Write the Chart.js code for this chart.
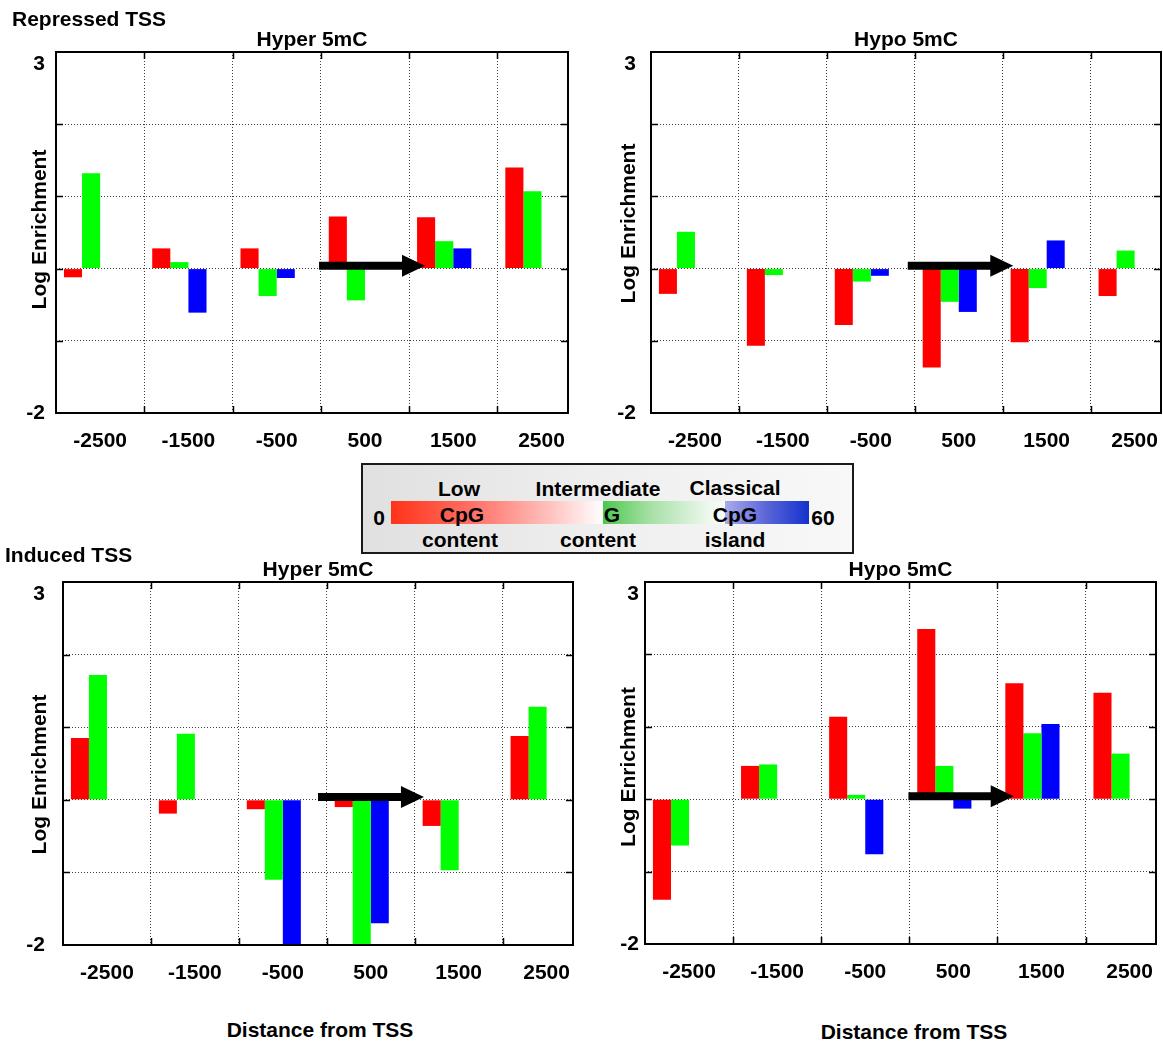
<!DOCTYPE html>
<html lang="en">
<head>
<meta charset="utf-8">
<title>Log enrichment around TSS</title>
<script src="https://cdn.jsdelivr.net/npm/chart.js@4.4.1/dist/chart.umd.min.js"></script>
<style>
    html, body { margin: 0; padding: 0; background: #fff; }
    #figure {
        position: relative;
        width: 1163px;
        height: 1048px;
        overflow: hidden;
        font-family: "Liberation Sans", Arial, sans-serif;
        font-weight: bold;
        color: #000;
    }
    #figure canvas { position: absolute; }
    .label { position: absolute; font-size: 21px; line-height: 1; white-space: nowrap; }
    .label.center { transform: translate(-50%, -50%); }
    .label.left { transform: translateY(-50%); }
    #cpg-key {
        position: absolute;
        left: 361px;
        top: 463px;
        width: 493px;
        height: 91px;
        box-sizing: border-box;
        border: 2px solid #1a1a1a;
        background: linear-gradient(to right, #e0e0e0, #eeeeee 45%, #f8f8f8);
    }
    #cpg-scale {
        position: absolute;
        left: 391px;
        top: 501px;
        width: 418px;
        height: 23px;
        background: linear-gradient(to right,
            #ff3318 0%, #ff7268 20%, #ffc2be 38%, #fff2f2 48%, #ffffff 50.8%,
            #4cc84c 50.8%, #a6e0a6 62%, #eef8ee 76%, #f8fcf8 80%,
            #a8aaea 80%, #5a64d8 90%, #1432cc 100%);
    }
</style>
</head>
<body>
<div id="figure">
    <canvas id="rep-hyper" width="580" height="432" style="left:0;top:26px"></canvas>
    <canvas id="rep-hypo" width="581" height="432" style="left:582px;top:26px"></canvas>
    <canvas id="ind-hyper" width="582" height="434" style="left:0;top:556px"></canvas>
    <canvas id="ind-hypo" width="581" height="433" style="left:582px;top:556px"></canvas>

    <div class="label left" style="left:12px;top:18px">Repressed TSS</div>
    <div class="label left" style="left:5px;top:554px">Induced TSS</div>
    <div class="label center" style="left:320px;top:1029px">Distance from TSS</div>
    <div class="label center" style="left:914px;top:1031px">Distance from TSS</div>

    <div id="cpg-key"></div>
    <div id="cpg-scale"></div>
    <div class="label center" style="left:459px;top:488px">Low</div>
    <div class="label center" style="left:598px;top:488px">Intermediate</div>
    <div class="label center" style="left:735px;top:487px">Classical</div>
    <div class="label center" style="left:379px;top:517px">0</div>
    <div class="label center" style="left:823px;top:517px">60</div>
    <div class="label center" style="left:462px;top:514px">CpG</div>
    <div class="label center" style="left:612px;top:514px">G</div>
    <div class="label center" style="left:735px;top:514px">CpG</div>
    <div class="label center" style="left:460px;top:539px">content</div>
    <div class="label center" style="left:598px;top:539px">content</div>
    <div class="label center" style="left:735px;top:539px">island</div>
</div>

<script>
// distance from TSS (bp): bin centres, and the bin edges that get grid lines
const distanceTicks = [-2500, -1500, -500, 500, 1500, 2500];
const distanceGrid = [-2000, -1000, 0, 1000, 2000];
const distanceMin = -3000;
const distanceMax = 2800;

// log enrichment axis
const enrichmentMin = -2;
const enrichmentMax = 3;
const enrichmentGrid = [-1, 0, 1, 2];

// Repressed TSS, hyper 5mC
const repHyperLow = [-0.12, 0.28, 0.28, 0.72, 0.71, 1.40];
const repHyperInter = [1.32, 0.09, -0.38, -0.44, 0.38, 1.07];
const repHyperIsland = [null, -0.61, -0.13, null, 0.28, null];

// Repressed TSS, hypo 5mC
const repHypoLow = [-0.35, -1.07, -0.78, -1.37, -1.02, -0.38];
const repHypoInter = [0.51, -0.09, -0.18, -0.46, -0.27, 0.25];
const repHypoIsland = [null, null, -0.10, -0.60, 0.39, null];

// Induced TSS, hyper 5mC
const indHyperLow = [0.85, -0.19, -0.13, -0.10, -0.36, 0.88];
const indHyperInter = [1.72, 0.91, -1.10, -2.00, -0.97, 1.28];
const indHyperIsland = [null, null, -2.00, -1.70, null, null];

// Induced TSS, hypo 5mC
const indHypoLow = [-1.39, 0.46, 1.14, 2.35, 1.60, 1.47];
const indHypoInter = [-0.64, 0.48, 0.06, 0.46, 0.91, 0.63];
const indHypoIsland = [null, null, -0.76, -0.13, 1.04, null];

const seriesLabels = ['Low CpG content', 'Intermediate content', 'Classical CpG island'];
const seriesColors = ['#ff0000', '#00ff00', '#0000ff'];

// transcription direction arrows, in axis units (start, end)
const arrowRepHyper = [-20, 1180];
const arrowRepHypo = [-80, 1120];
const arrowIndHyper = [-100, 1105];
const arrowIndHypo = [-10, 1185];
const arrowLevel = 0.04;

const FONT = { family: '"Liberation Sans", Arial, sans-serif', size: 21, weight: 'bold' };
const TITLE_FONT = { ...FONT, lineHeight: 1 };
const GRID_COLOR = '#3a3a3a';
const CLEAR = 'rgba(0,0,0,0)';

const panels = [
    { id: 'rep-hyper', title: 'Hyper 5mC', series: [repHyperLow, repHyperInter, repHyperIsland], arrow: arrowRepHyper,
      yAxisWidth: 56, padRight: 12, tickGap: 11, yTitleX: -16, yTitleDy: -3 },
    { id: 'rep-hypo', title: 'Hypo 5mC', series: [repHypoLow, repHypoInter, repHypoIsland], arrow: arrowRepHypo,
      yAxisWidth: 69, padRight: 2, tickGap: 15, yTitleX: -22, yTitleDy: -9 },
    { id: 'ind-hyper', title: 'Hyper 5mC', series: [indHyperLow, indHyperInter, indHyperIsland], arrow: arrowIndHyper,
      yAxisWidth: 63, padRight: 9, tickGap: 18, yTitleX: -23, yTitleDy: 11 },
    { id: 'ind-hypo', title: 'Hypo 5mC', series: [indHypoLow, indHypoInter, indHypoIsland], arrow: arrowIndHypo,
      yAxisWidth: 63, padRight: 7, tickGap: 6, yTitleX: -16, yTitleDy: 4 }
];

// frame, inner tick marks, arrow and rotated y title (gnuplot style)
const panelDecor = {
    id: 'panelDecor',
    afterDatasetsDraw(chart, args, opts) {
        const { ctx, scales: { x, y } } = chart;
        const x0 = x.getPixelForValue(opts.arrow[0]);
        const x1 = x.getPixelForValue(opts.arrow[1]);
        const yc = y.getPixelForValue(arrowLevel);
        const head = 23;
        ctx.save();
        ctx.fillStyle = '#000';
        ctx.beginPath();
        ctx.moveTo(x0, yc - 4);
        ctx.lineTo(x1 - head, yc - 4);
        ctx.lineTo(x1 - head, yc - 11);
        ctx.lineTo(x1, yc);
        ctx.lineTo(x1 - head, yc + 11);
        ctx.lineTo(x1 - head, yc + 4);
        ctx.lineTo(x0, yc + 4);
        ctx.closePath();
        ctx.fill();
        ctx.restore();
    },
    afterDraw(chart, args, opts) {
        const { ctx, chartArea: area, scales: { x, y } } = chart;
        ctx.save();
        ctx.strokeStyle = '#000';
        ctx.lineWidth = 1.5;
        ctx.beginPath();
        distanceGrid.forEach(v => {
            const px = Math.round(x.getPixelForValue(v)) + 0.5;
            ctx.moveTo(px, area.top);
            ctx.lineTo(px, area.top + 7);
            ctx.moveTo(px, area.bottom);
            ctx.lineTo(px, area.bottom - 7);
        });
        enrichmentGrid.forEach(v => {
            const py = Math.round(y.getPixelForValue(v)) + 0.5;
            ctx.moveTo(area.left, py);
            ctx.lineTo(area.left + 7, py);
            ctx.moveTo(area.right, py);
            ctx.lineTo(area.right - 7, py);
        });
        ctx.stroke();

        ctx.lineWidth = 2;
        ctx.strokeRect(area.left, area.top, area.right - area.left, area.bottom - area.top);

        ctx.translate(area.left + opts.yTitleX, (area.top + area.bottom) / 2 + opts.yTitleDy);
        ctx.rotate(-Math.PI / 2);
        ctx.font = `bold ${FONT.size}px ${FONT.family}`;
        ctx.fillStyle = '#000';
        ctx.textAlign = 'center';
        ctx.textBaseline = 'middle';
        ctx.fillText('Log Enrichment', 0, 0);
        ctx.restore();
    }
};

function buildDatasets(series) {
    const datasets = series.map((values, i) => ({
        label: seriesLabels[i],
        data: distanceTicks.map((pos, j) => ({ x: pos, y: values[j] })),
        backgroundColor: seriesColors[i],
        borderWidth: 0
    }));
    // empty fourth slot, keeps the three bars left of the bin centre like the original
    datasets.push({ label: '', data: [], backgroundColor: CLEAR });
    return datasets;
}

function renderPanel(panel) {
    const canvas = document.getElementById(panel.id);
    return new Chart(canvas, {
        type: 'bar',
        data: { datasets: buildDatasets(panel.series) },
        plugins: [panelDecor],
        options: {
            responsive: false,
            animation: false,
            events: [],
            categoryPercentage: 0.82,
            barPercentage: 1,
            layout: { padding: { left: 0, top: 0, bottom: 0, right: panel.padRight } },
            plugins: {
                legend: { display: false },
                tooltip: { enabled: false },
                title: {
                    display: true,
                    text: panel.title,
                    fullSize: false,
                    color: '#000',
                    font: TITLE_FONT,
                    padding: { top: 4, bottom: 1 }
                },
                panelDecor: { arrow: panel.arrow, yTitleX: panel.yTitleX, yTitleDy: panel.yTitleDy }
            },
            scales: {
                x: {
                    type: 'linear',
                    min: distanceMin,
                    max: distanceMax,
                    bounds: 'data',
                    offset: false,
                    afterBuildTicks: scale => {
                        scale.ticks = distanceTicks.map(v => ({ value: v }));
                    },
                    afterFit: scale => {
                        scale.height = 45;
                        scale.paddingLeft = 0;
                        scale.paddingRight = 0;
                    },
                    grid: {
                        offset: true,
                        drawTicks: false,
                        lineWidth: 1,
                        color: ctx => (ctx.index === 0 ? CLEAR : GRID_COLOR)
                    },
                    border: { display: false, dash: [1, 2] },
                    ticks: {
                        autoSkip: false,
                        maxRotation: 0,
                        padding: 16,
                        color: '#000',
                        font: FONT,
                        callback: value => String(value)
                    }
                },
                y: {
                    min: enrichmentMin,
                    max: enrichmentMax,
                    bounds: 'data',
                    afterFit: scale => {
                        scale.width = panel.yAxisWidth;
                        scale.paddingTop = 0;
                        scale.paddingBottom = 0;
                    },
                    grid: {
                        drawTicks: false,
                        lineWidth: 1,
                        color: ctx => (ctx.tick && enrichmentGrid.includes(ctx.tick.value) ? GRID_COLOR : CLEAR)
                    },
                    border: { display: false, dash: [1, 2] },
                    ticks: {
                        stepSize: 1,
                        padding: panel.tickGap,
                        color: '#000',
                        font: FONT,
                        callback: value => {
                            if (value === enrichmentMax) {
                                return ['', String(value)];
                            }
                            return value === enrichmentMin ? String(value) : '';
                        }
                    }
                }
            }
        }
    });
}

document.addEventListener('DOMContentLoaded', () => {
    panels.forEach(renderPanel);
});
</script>
</body>
</html>
